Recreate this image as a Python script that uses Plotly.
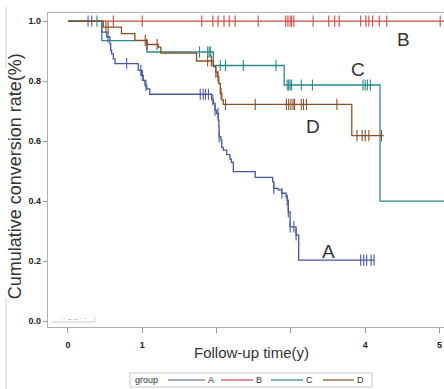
import numpy as np
import plotly.graph_objects as go

# ---------------- data ----------------
groups = ["A", "B", "C", "D"]
colors = {"A": "#4A56A6", "B": "#CC4A43", "C": "#2B8A8A", "D": "#8C4E22"}

# event times (years) and survival level after each event; first point = start
A_time = [0.0, 0.454, 0.52, 0.565, 0.575, 0.588, 0.61, 0.633, 0.946, 0.99, 1.013, 1.036, 1.06, 1.10,
          1.934, 1.956, 1.978, 2.001, 2.023, 2.03, 2.035, 2.06, 2.07, 2.09, 2.136, 2.18, 2.20, 2.225,
          2.52, 2.755, 2.77, 2.83, 2.876, 2.934, 2.95, 2.965, 2.99, 3.07, 3.105]
A_surv = [1.0, 0.963, 0.947, 0.924, 0.902, 0.891, 0.874, 0.858, 0.836, 0.819, 0.802, 0.786, 0.774, 0.756,
          0.737, 0.726, 0.703, 0.692, 0.670, 0.648, 0.614, 0.603, 0.579, 0.570, 0.555, 0.540, 0.529, 0.498,
          0.479, 0.464, 0.442, 0.437, 0.426, 0.414, 0.403, 0.364, 0.314, 0.287, 0.203]
A_end = 4.12
A_cens = [0.27, 0.32, 0.54, 0.79, 0.98, 1.00, 1.05, 1.78, 1.82, 1.85, 1.89, 1.95, 1.98, 2.02, 2.035,
          2.77, 2.88, 2.95, 2.965, 2.99, 3.04, 3.07, 3.94, 3.98, 4.02, 4.08, 4.12]

B_time = [0.0]
B_surv = [1.0]
B_end = 5.2
B_cens = [0.61, 1.0, 1.80, 1.95, 2.02, 2.10, 2.17, 2.25, 2.56, 2.93, 2.96, 2.99, 3.01, 3.04,
          3.30, 3.51, 3.59, 3.65, 3.94, 4.01, 4.05, 4.10, 4.19, 4.29, 5.01]

C_time = [0.0, 0.455, 1.064, 1.956, 2.91, 4.20]
C_surv = [1.0, 0.935, 0.897, 0.852, 0.787, 0.40]
C_end = 5.2
C_cens = [0.39, 1.77, 1.88, 1.90, 1.92, 2.05, 2.12, 2.36, 2.80, 2.95, 2.97, 2.99, 3.01, 3.14, 3.29,
          3.97, 4.00, 4.03, 4.07]

D_time = [0.0, 0.475, 0.72, 0.90, 1.06, 1.215, 1.25, 1.73, 1.956, 1.99, 2.01, 2.03, 2.05, 2.07, 2.09, 3.82]
D_surv = [1.0, 0.980, 0.958, 0.936, 0.922, 0.913, 0.893, 0.867, 0.848, 0.830, 0.815, 0.792, 0.759, 0.737, 0.722, 0.618]
D_end = 4.25
D_cens = [0.51, 0.54, 1.04, 1.06, 1.20, 1.88, 1.93, 1.99, 2.02, 2.06, 2.12, 2.52, 2.94, 2.97, 3.00, 3.03,
          3.05, 3.14, 3.17, 3.21, 3.62, 3.89, 3.96, 4.00, 4.05, 4.22]

curves = {
    "A": (A_time, A_surv, A_end, A_cens),
    "B": (B_time, B_surv, B_end, B_cens),
    "C": (C_time, C_surv, C_end, C_cens),
    "D": (D_time, D_surv, D_end, D_cens),
}

x_ticks = [0, 1, 2, 3, 4, 5]
x_ticklabels = ["0", "1", "", "", "4", "5"]
y_ticks = [0.0, 0.2, 0.4, 0.6, 0.8, 1.0]
y_ticklabels = ["0.0", "0.2", "0.4", "0.6", "0.8", "1.0"]

curve_labels = ["B", "C", "D", "A"]
curve_label_x = [4.52, 3.9, 3.3, 3.5]
curve_label_y = [0.94, 0.84, 0.647, 0.232]

legend_title = "group"

# ---------------- figure ----------------
fig = go.Figure()
for g in groups:
    t, s, end, cens = curves[g]
    xs = list(t) + [end]
    ys = list(s) + [s[-1]]
    fig.add_trace(go.Scatter(x=xs, y=ys, mode="lines", line_shape="hv",
                             line=dict(color=colors[g], width=1.3), name=g, showlegend=False))
for g in groups:
    t, s, end, cens = curves[g]
    idx = np.searchsorted(np.array(t), np.array(cens), side="right") - 1
    cy = np.array(s)[idx]
    fig.add_trace(go.Scatter(x=cens, y=cy, mode="markers", showlegend=False, hoverinfo="skip",
                             marker=dict(symbol="line-ns-open", size=8, color=colors[g],
                                         line=dict(color=colors[g], width=1.1))))

for lab, lx, ly in zip(curve_labels, curve_label_x, curve_label_y):
    fig.add_annotation(x=lx, y=ly, text=lab, showarrow=False,
                       font=dict(family="Liberation Sans", size=19, color="#333333"))

# axis titles as annotations
fig.add_annotation(xref="paper", yref="paper", x=0, y=0.48, xanchor="center", yanchor="middle",
                   xshift=-33, text="Cumulative conversion rate(%)",
                   textangle=-90, showarrow=False, font=dict(family="Liberation Sans", size=18, color="#333333"))
fig.add_annotation(xref="paper", yref="paper", x=0.515, y=0, xanchor="center", yanchor="middle", yshift=-25,
                   text="Follow-up time(y)",
                   showarrow=False, font=dict(family="Liberation Sans", size=15, color="#333333"))

# legend drawn below the plot (paper coordinates)
PW, PH, PL, PB = 396.0, 314.0, 48.0, 327.0
def px(x):
    return (x - PL) / PW
def py(y):
    return (PB - y) / PH
fig.add_shape(type="rect", xref="paper", yref="paper", x0=px(130), x1=px(372), y0=py(387), y1=py(373),
              line=dict(color="#c8c8c8", width=1), fillcolor="white")
fig.add_annotation(xref="paper", yref="paper", x=px(133), y=py(380), xanchor="left", yanchor="middle",
                   text=legend_title, showarrow=False,
                   font=dict(family="Liberation Sans", size=9, color="#333333"))
leg_line_x0 = [168, 221, 271, 323]
leg_line_x1 = [205, 253, 303, 354]
for g, a, b in zip(groups, leg_line_x0, leg_line_x1):
    fig.add_shape(type="line", xref="paper", yref="paper", x0=px(a), x1=px(b), y0=py(380), y1=py(380),
                  line=dict(color=colors[g], width=1.2))
    fig.add_annotation(xref="paper", yref="paper", x=px(b + 6), y=py(380), xanchor="center", yanchor="middle",
                       text=g, showarrow=False,
                       font=dict(family="Liberation Sans", size=9, color="#333333"))

# faint artifacts
fig.add_shape(type="line", xref="paper", yref="paper", x0=px(6), x1=px(6), y0=py(7), y1=py(68),
              line=dict(color="#d0d0d0", width=1))
fig.add_shape(type="line", xref="paper", yref="paper", x0=px(6), x1=px(6), y0=py(298), y1=py(392),
              line=dict(color="#d0d0d0", width=1))
fig.add_shape(type="line", xref="x", yref="y", x0=-0.22, x1=0.36, y0=-0.003, y1=-0.003,
              line=dict(color="#cccccc", width=1))
fig.add_shape(type="line", xref="x", yref="y", x0=0.36, x1=0.36, y0=-0.003, y1=0.013,
              line=dict(color="#cccccc", width=1))
fig.add_annotation(x=0.07, y=0.007, text="·· – – · ·", showarrow=False,
                   font=dict(family="Liberation Sans", size=7, color="#9a9a9a"))

tickfont = dict(family="Liberation Sans", size=9, color="#222222", weight=700)
fig.update_xaxes(range=[-0.269, 5.061], tickvals=x_ticks, ticktext=x_ticklabels, ticks="outside",
                 ticklen=5, tickcolor="#999999", showline=True, linecolor="#aab0b8", linewidth=1.3,
                 mirror=True, showgrid=False, zeroline=False, tickfont=tickfont, ticklabelstandoff=4)
fig.update_yaxes(range=[-0.02, 1.027], tickvals=y_ticks, ticktext=y_ticklabels, ticks="outside",
                 ticklen=4, tickcolor="#999999", showline=True, linecolor="#aab0b8", linewidth=1.3,
                 showgrid=False, zeroline=False, tickfont=tickfont)

fig.update_layout(
    width=444, height=389,
    margin=dict(l=48, r=0, t=13, b=62, autoexpand=False),
    paper_bgcolor="white", plot_bgcolor="white",
    showlegend=False,
)

fig.write_html("out.html")
